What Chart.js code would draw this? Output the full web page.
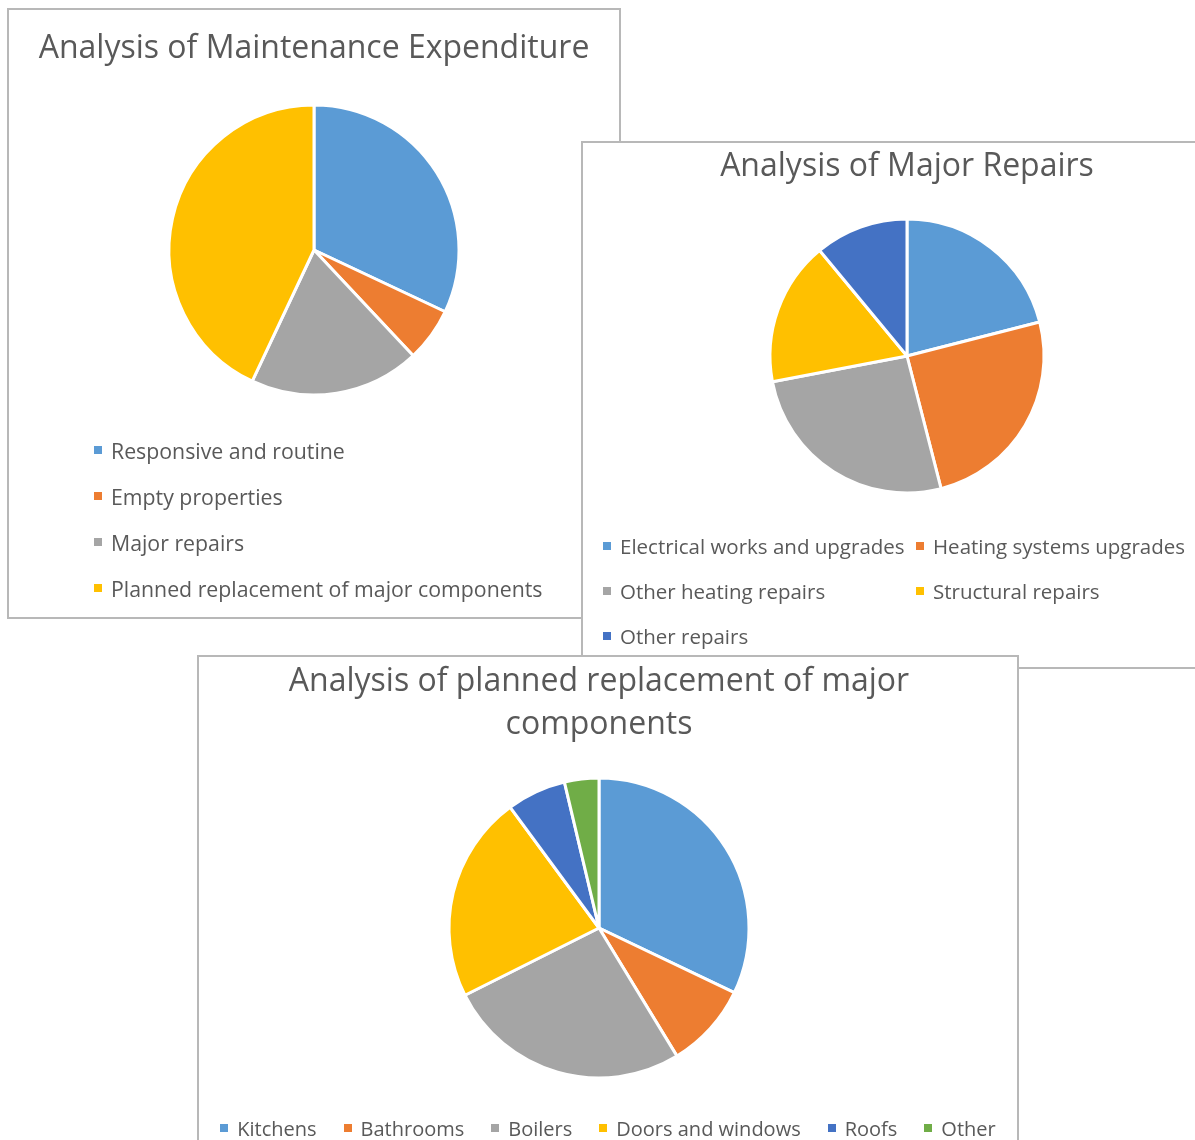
<!DOCTYPE html>
<html lang="en">
<head>
  <meta charset="UTF-8">
  <title>Maintenance Expenditure Analysis</title>
  <script src="https://cdn.jsdelivr.net/npm/chart.js"></script>
  <style>
    html, body { margin: 0; padding: 0; background: #fff; width: 1195px; height: 1140px; overflow: hidden; }
    body { position: relative; font-family: "Open Sans", Lato, sans-serif; color: #595959; }
    .box { position: absolute; box-sizing: border-box; border: 2px solid #b8b8b8; background: #fff; }
    .box canvas { position: absolute; left: 0; top: 0; }
    .legend { position: absolute; font-size: 20px; color: #595959; }
    .item { display: flex; align-items: center; white-space: nowrap; height: 24px; }
    .item span.mark { display: inline-block; width: 8px; height: 8px; margin-right: 9px; }
    #legend1 { font-size: 21.3px; }
    #legend1 .item { margin-bottom: 22px; }
    #legend2 { font-size: 20.5px; display: grid; grid-template-columns: 313px auto; row-gap: 21px; }
    #legend3 { display: flex; justify-content: center; gap: 27px; }
  </style>
</head>
<body>
  <div class="box" id="box1" style="left:7px; top:8px; width:614px; height:611px;">
    <canvas id="chart1"></canvas>
    <div class="legend" id="legend1" style="left:85px; top:428px;"></div>
  </div>
  <div class="box" id="box2" style="left:581px; top:141px; width:652px; height:528px;">
    <canvas id="chart2"></canvas>
    <div class="legend" id="legend2" style="left:20px; top:391px;"></div>
  </div>
  <div class="box" id="box3" style="left:197px; top:655px; width:822px; height:500px;">
    <canvas id="chart3"></canvas>
    <div class="legend" id="legend3" style="left:0; width:818px; top:459px;"></div>
  </div>

  <script>
    // Maintenance expenditure split (%)
    const expenditureLabels = ['Responsive and routine', 'Empty properties', 'Major repairs', 'Planned replacement of major components'];
    const expenditureValues = [32, 6, 19, 43];

    // Major repairs split (%)
    const repairLabels = ['Electrical works and upgrades', 'Heating systems upgrades', 'Other heating repairs', 'Structural repairs', 'Other repairs'];
    const repairValues = [21, 25, 26, 17, 11];

    // Planned replacement split (%)
    const componentLabels = ['Kitchens', 'Bathrooms', 'Boilers', 'Doors and windows', 'Roofs', 'Other'];
    const componentValues = [32.1, 9.2, 26.3, 22.3, 6.4, 3.7];

    const officeColors = ['#5B9BD5', '#ED7D31', '#A5A5A5', '#FFC000', '#4472C4', '#70AD47'];

    function buildLegend(id, labels) {
      const el = document.getElementById(id);
      labels.forEach((label, i) => {
        const item = document.createElement('div');
        item.className = 'item';
        const mark = document.createElement('span');
        mark.className = 'mark';
        mark.style.background = officeColors[i];
        item.appendChild(mark);
        item.appendChild(document.createTextNode(label));
        el.appendChild(item);
      });
    }

    function makePie(canvasId, labels, values, title, size, radius, pad, titlePad, lineHeight) {
      const canvas = document.getElementById(canvasId);
      canvas.width = size[0];
      canvas.height = size[1];
      return new Chart(canvas, {
        type: 'pie',
        data: {
          labels: labels,
          datasets: [{
            data: values,
            backgroundColor: officeColors.slice(0, values.length),
            borderColor: '#ffffff',
            borderWidth: 3
          }]
        },
        options: {
          responsive: false,
          animation: false,
          radius: radius,
          layout: { padding: pad },
          plugins: {
            legend: { display: false },
            tooltip: { enabled: false },
            title: {
              display: true,
              text: title,
              color: '#595959',
              font: { family: '"Open Sans"', size: 32, weight: 'normal', lineHeight: lineHeight },
              padding: titlePad
            }
          }
        }
      });
    }

    makePie('chart1', expenditureLabels, expenditureValues, 'Analysis of Maintenance Expenditure',
      [610, 607], 145, { left: 0, right: 0, top: 0, bottom: 222 }, { top: 19.5, bottom: 37.1 }, 1.2);
    makePie('chart2', repairLabels, repairValues, 'Analysis of Major Repairs',
      [648, 524], 137, { left: 0, right: 0, top: 0, bottom: 174 }, { top: 4.3, bottom: 33.3 }, 1.2);
    makePie('chart3', componentLabels, componentValues, ['Analysis of planned replacement of major', 'components'],
      [818, 496], 150, { left: 0, right: 18, top: 0, bottom: 75 }, { top: 3, bottom: 32 }, 1.344);

    buildLegend('legend1', expenditureLabels);
    buildLegend('legend2', repairLabels);
    buildLegend('legend3', componentLabels);
  </script>
</body>
</html>
